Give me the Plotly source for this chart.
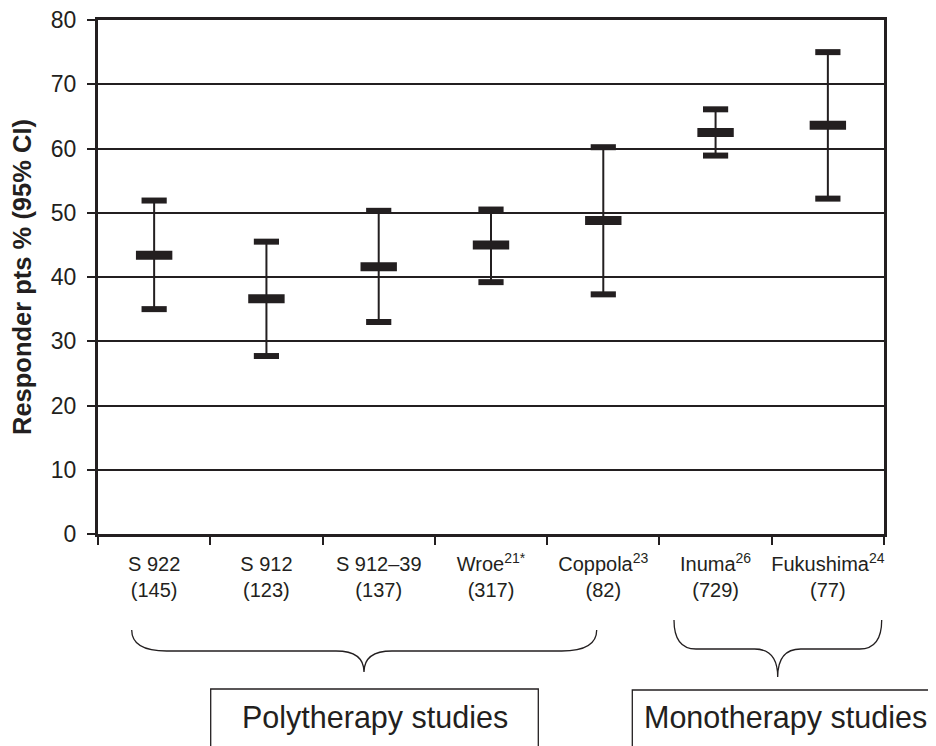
import plotly.graph_objects as go

# ---- data ----
studies = ["S 922", "S 912", "S 912–39", "Wroe", "Coppola", "Inuma", "Fukushima"]
refs = ["", "", "", "21*", "23", "26", "24"]
n_pts = [145, 123, 137, 317, 82, 729, 77]
mean = [43.4, 36.6, 41.6, 45.0, 48.8, 62.5, 63.6]
lo = [35.0, 27.7, 33.0, 39.2, 37.3, 58.9, 52.2]
hi = [51.9, 45.5, 50.3, 50.5, 60.2, 66.1, 75.0]
y_ticks = [0, 10, 20, 30, 40, 50, 60, 70, 80]

INK = "#231f20"
FONT = "Arial, Liberation Sans, Helvetica, sans-serif"

tick_text = [
    f"{s}<sup>{r}</sup><br>({n})" if r else f"{s}<br>({n})"
    for s, r, n in zip(studies, refs, n_pts)
]

fig = go.Figure()

# vertical CI lines + mean bar
fig.add_trace(go.Scatter(
    x=studies, y=mean, mode="markers",
    marker=dict(symbol="line-ew", size=26, color=INK,
                line=dict(color=INK, width=9)),
    error_y=dict(type="data", symmetric=False,
                 array=[h - m for h, m in zip(hi, mean)],
                 arrayminus=[m - l for m, l in zip(mean, lo)],
                 thickness=2, width=0, color=INK),
    hoverinfo="skip", showlegend=False,
))

# CI caps
fig.add_trace(go.Scatter(
    x=studies + studies, y=lo + hi, mode="markers",
    marker=dict(symbol="line-ew", size=18, color=INK,
                line=dict(color=INK, width=6)),
    hoverinfo="skip", showlegend=False,
))

# ---- layout geometry (page pixels; page has an 8px body margin) ----
OFF = 8
W_FIG, H_FIG = 936 - OFF, 746 - OFF
L, R, T, B = 98, 884, 20, 534


def px(x):
    return (x - L) / (R - L)


def py(y):
    return (B - y) / (B - T)


def brace(x1, x2, xm, yt, yh, yp, re, rm):
    return (f"M {px(x1)},{py(yt)} Q {px(x1)},{py(yh)} {px(x1 + re)},{py(yh)} "
            f"L {px(xm - rm)},{py(yh)} Q {px(xm)},{py(yh)} {px(xm)},{py(yp)} "
            f"Q {px(xm)},{py(yh)} {px(xm + rm)},{py(yh)} "
            f"L {px(x2 - re)},{py(yh)} Q {px(x2)},{py(yh)} {px(x2)},{py(yt)}")


shapes = [
    dict(type="path", xref="paper", yref="paper",
         path=brace(131.7, 596.7, 364, 630, 651, 672, 35, 28),
         line=dict(color=INK, width=1.3)),
    dict(type="path", xref="paper", yref="paper",
         path=brace(674, 881.7, 777.7, 620, 649, 677, 22, 23),
         line=dict(color=INK, width=1.3)),
    dict(type="rect", xref="paper", yref="paper",
         x0=px(210.7), x1=px(538.3), y0=py(689), y1=py(780),
         line=dict(color=INK, width=1.3)),
    dict(type="rect", xref="paper", yref="paper",
         x0=px(632.3), x1=px(990), y0=py(690), y1=py(780),
         line=dict(color=INK, width=1.3)),
]

annotations = [
    dict(text="Polytherapy studies", xref="paper", yref="paper",
         x=px(240), y=py(717), xanchor="left", yanchor="middle",
         showarrow=False, font=dict(family=FONT, size=30.5, color=INK)),
    dict(text="Monotherapy studies", xref="paper", yref="paper",
         x=px(641.5), y=py(717), xanchor="left", yanchor="middle",
         showarrow=False, font=dict(family=FONT, size=30.5, color=INK)),
]

fig.update_layout(
    width=W_FIG, height=H_FIG, autosize=False,
    margin=dict(l=L - OFF, r=936 - R, t=T - OFF, b=746 - B, pad=0),
    paper_bgcolor="white", plot_bgcolor="white",
    font=dict(family=FONT, color=INK),
    shapes=shapes, annotations=annotations,
    xaxis=dict(
        type="category", categoryorder="array", categoryarray=studies,
        range=[-0.5, len(studies) - 0.5],
        tickmode="array", tickvals=studies, ticktext=tick_text,
        tickangle=0, ticklabelstandoff=10,
        tickson="boundaries", ticks="outside", ticklen=8, tickwidth=2,
        tickcolor=INK, tickfont=dict(family=FONT, size=20, color=INK),
        showline=True, linecolor=INK, linewidth=3, mirror=True,
        showgrid=False, zeroline=False, automargin=False,
    ),
    yaxis=dict(
        range=[0, 80], tickmode="array", tickvals=y_ticks,
        ticks="outside", ticklen=8, tickwidth=2, tickcolor=INK,
        tickfont=dict(family=FONT, size=23, color=INK),
        ticklabelstandoff=6, ticklabeloverflow="allow",
        showline=True, linecolor=INK, linewidth=3, mirror=True,
        showgrid=True, gridcolor=INK, gridwidth=2, zeroline=False,
        title=dict(text="<b>Responder pts % (95% CI)</b>",
                   font=dict(family=FONT, size=25.5, color=INK), standoff=14),
        automargin=False,
    ),
)

fig.write_html("out.html")
